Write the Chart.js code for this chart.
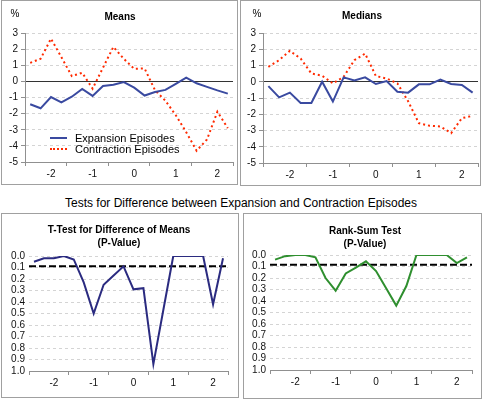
<!DOCTYPE html>
<html>
<head>
<meta charset="utf-8">
<script src="https://cdn.jsdelivr.net/npm/chart.js@4"></script>
<style>
  body { margin: 0; background: #fff; font-family: "Liberation Sans", Arial, sans-serif; }
  #page { position: relative; width: 483px; height: 399px; overflow: hidden; }
  .box { position: absolute; border: 1px solid #a0a0a0; box-sizing: border-box; }
  canvas { position: absolute; }
  .lbl { position: absolute; transform: translate(-50%, -50%); white-space: nowrap; color: #000; }
  .ttl { font-weight: bold; font-size: 10px; text-align: center; line-height: 13px; }
  .leg { position: absolute; font-size: 11px; line-height: 12px; white-space: nowrap; }
  .sw { position: absolute; width: 17px; height: 0; }
</style>
</head>
<body>
<div id="page">
  <div class="box" style="left:1px;top:0px;width:237px;height:185px"></div>
  <div class="box" style="left:240px;top:0px;width:241px;height:186px"></div>
  <div class="box" style="left:1px;top:213px;width:238px;height:185px"></div>
  <div class="box" style="left:243px;top:213px;width:239px;height:186px"></div>

  <canvas id="means" width="234" height="182" style="left:2px;top:1px"></canvas>
  <canvas id="medians" width="238" height="183" style="left:242px;top:1px"></canvas>
  <canvas id="ttest" width="236" height="182" style="left:2px;top:214px"></canvas>
  <canvas id="ranksum" width="237" height="183" style="left:244px;top:214px"></canvas>

  <div class="lbl" style="left:15px;top:13px;font-size:10px">%</div>
  <div class="lbl ttl" style="left:120px;top:16px">Means</div>
  <div class="lbl" style="left:257px;top:13px;font-size:10px">%</div>
  <div class="lbl ttl" style="left:362px;top:15px">Medians</div>

  <div class="lbl" style="left:241px;top:203px;font-size:12px">Tests for Difference between Expansion and Contraction Episodes</div>
  <div class="lbl ttl" style="left:119px;top:236px">T-Test for Difference of Means<br>(P-Value)</div>
  <div class="lbl ttl" style="left:365px;top:237px">Rank-Sum Test<br>(P-Value)</div>

  <div class="sw" style="left:50px;top:137px;border-top:2px solid #3a4aa0"></div>
  <div class="leg" style="left:75px;top:132px">Expansion Episodes</div>
  <div class="sw" style="left:50px;top:148px;border-top:2px dotted #ff2a00"></div>
  <div class="leg" style="left:75px;top:143px">Contraction Episodes</div>
</div>
<script>
// quarters relative to the episode, in years
const quarters = [-2.5, -2.25, -2, -1.75, -1.5, -1.25, -1, -0.75, -0.5, -0.25,
                  0, 0.25, 0.5, 0.75, 1, 1.25, 1.5, 1.75, 2, 2.25];
const xLabels = [-2, -1, 0, 1, 2];
const xBounds = [-2.625, -1.625, -0.625, 0.375, 1.375, 2.375];

const meansExpansion   = [-1.42, -1.67, -0.97, -1.3, -0.95, -0.47, -0.9, -0.29, -0.21, -0.04,
                          -0.39, -0.88, -0.66, -0.53, -0.15, 0.23, -0.12, -0.34, -0.56, -0.76];
const meansContraction = [1.15, 1.4, 2.65, 1.5, 0.33, 0.53, -0.45, 0.85, 2.14, 1.4,
                          0.78, 0.8, -0.55, -1.2, -2.1, -3.15, -4.3, -3.6, -1.88, -2.9];
const mediansExpansion   = [-0.27, -0.96, -0.67, -1.3, -1.3, 0.0, -1.22, 0.27, 0.08, 0.27,
                            -0.14, 0.04, -0.61, -0.67, -0.16, -0.16, 0.14, -0.14, -0.2, -0.67];
const mediansContraction = [0.92, 1.33, 1.9, 1.43, 0.51, 0.37, -0.1, 0.3, 1.33, 1.73,
                            0.35, 0.2, -0.1, -1.2, -2.55, -2.71, -2.75, -3.16, -2.24, -2.1];
const tTestP   = [0.05, 0.02, 0.02, 0.0, 0.03, 0.23, 0.5, 0.25, 0.17, 0.09,
                  0.29, 0.28, 0.94, 0.47, 0.0, 0.0, 0.0, 0.0, 0.42, 0.02];
const rankSumP = [0.04, 0.01, 0.0, 0.0, 0.02, 0.2, 0.31, 0.16, 0.11, 0.055,
                  0.14, 0.29, 0.44, 0.27, 0.0, 0.0, 0.0, 0.0, 0.07, 0.02];
const tThreshold = 0.09;
const rankThreshold = 0.085;

const FONT = { family: '"Liberation Sans", Arial, sans-serif', size: 10 };
const AXIS = '#909090';

function pts(values) {
  return values.map((v, i) => ({ x: quarters[i], y: v }));
}
function flat(v) {
  return [{ x: xBounds[0], y: v }, { x: xBounds[xBounds.length - 1], y: v }];
}

function xScale(height) {
  return {
    type: 'linear',
    min: xBounds[0],
    max: xBounds[xBounds.length - 1],
    afterBuildTicks: s => {
      s.ticks = xBounds.concat(xLabels).sort((a, b) => a - b).map(v => ({ value: v }));
    },
    afterFit: s => { s.height = height; },
    ticks: {
      autoSkip: false, maxRotation: 0, padding: 2, color: '#111', font: FONT,
      callback: v => (Number.isInteger(v) ? String(v) : '')
    },
    grid: {
      drawOnChartArea: false, tickLength: 4,
      tickColor: ctx => (ctx.tick && Number.isInteger(ctx.tick.value) ? 'rgba(0,0,0,0)' : AXIS)
    },
    border: { color: AXIS }
  };
}

function line(values, color, dotted) {
  return {
    data: pts(values), borderColor: color, borderWidth: 2,
    borderDash: dotted ? [2, 3] : [], pointRadius: 0, tension: 0
  };
}

function levelChart(id, exp, con, yWidth, padTop, padRight, xHeight) {
  new Chart(document.getElementById(id), {
    type: 'line',
    data: { datasets: [line(exp, '#3a4aa0', false), line(con, '#ff2a00', true)] },
    options: {
      responsive: false, animation: false,
      layout: { padding: { top: padTop, right: padRight, left: 0, bottom: 0 } },
      plugins: { legend: { display: false }, tooltip: { enabled: false } },
      scales: {
        x: xScale(xHeight),
        y: {
          min: -5, max: 3,
          afterFit: s => { s.width = yWidth; },
          ticks: { stepSize: 1, autoSkip: false, padding: 3, color: '#111', font: FONT },
          grid: {
            tickLength: 4, tickColor: AXIS,
            color: ctx => (ctx.tick && ctx.tick.value === 0 ? '#333' : '#d4d4d4')
          },
          border: {
            color: AXIS,
            dash: ctx => (ctx.tick && ctx.tick.value === 0 ? [] : [3, 3])
          }
        }
      }
    }
  });
}

function pChart(id, values, threshold, color, yWidth, padTop, padRight, xHeight) {
  new Chart(document.getElementById(id), {
    type: 'line',
    data: {
      datasets: [
        line(values, color, false),
        { data: flat(threshold), borderColor: '#000', borderWidth: 2, borderDash: [7, 3], pointRadius: 0 }
      ]
    },
    options: {
      responsive: false, animation: false,
      layout: { padding: { top: padTop, right: padRight, left: 0, bottom: 0 } },
      plugins: { legend: { display: false }, tooltip: { enabled: false } },
      scales: {
        x: xScale(xHeight),
        y: {
          min: 0, max: 1, reverse: true,
          afterFit: s => { s.width = yWidth; },
          ticks: {
            stepSize: 0.1, autoSkip: false, padding: 4, color: '#111', font: FONT,
            callback: v => v.toFixed(1)
          },
          grid: { drawTicks: false, color: '#d4d4d4' },
          border: { display: false, dash: [3, 3] }
        }
      }
    }
  });
}

levelChart('means', meansExpansion, meansContraction, 23, 32, 3, 21);
levelChart('medians', mediansExpansion, mediansContraction, 21, 32, 2, 21);
pChart('ttest', tTestP, tThreshold, '#2b2b80', 27, 42, 10, 25);
pChart('ranksum', rankSumP, rankThreshold, '#2f8f2f', 26, 41, 9, 27);
</script>
</body>
</html>
